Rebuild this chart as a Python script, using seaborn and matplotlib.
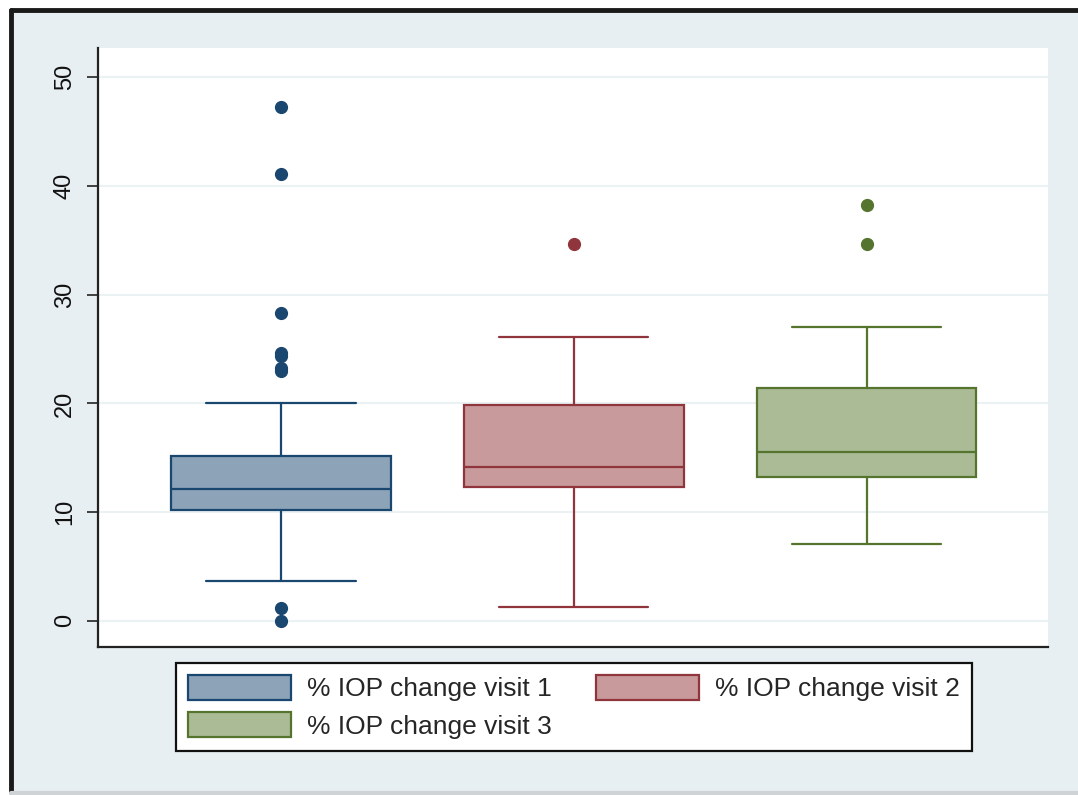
import matplotlib
matplotlib.use('Agg')
import matplotlib.pyplot as plt
from matplotlib.patches import Patch, Rectangle
from matplotlib.lines import Line2D
import seaborn as sns

# ========================================
# Data
# ========================================
labels = ['% IOP change visit 1', '% IOP change visit 2', '% IOP change visit 3']
q1 = [10.2, 12.3, 13.2]
median = [12.1, 14.15, 15.5]
q3 = [15.2, 19.85, 21.4]
whisker_low = [3.7, 1.3, 7.1]
whisker_high = [20.0, 26.1, 27.0]
outliers = [
    [47.3, 41.1, 28.3, 24.6, 24.4, 23.3, 23.0, 1.2, 0.0],
    [34.65],
    [38.3, 34.65],
]
y_ticks = [0, 10, 20, 30, 40, 50]

# Stata s2color-like palette
edge_colors = ['#1a476f', '#90353b', '#55752f']
fill_colors = ['#8da3b7', '#c89a9c', '#aabb96']
BG = '#e8eff2'
GRID = '#eaf2f3'

sns.set_style('white')
plt.rcParams['font.family'] = ['Liberation Sans', 'DejaVu Sans']

fig = plt.figure(figsize=(10.78, 7.95), dpi=100)
fig.patch.set_facecolor('white')

# outer window-like frame: dark left/top edges, soft grey bottom
fig.patches.append(Rectangle((0.0102, 0.0), 1.0, 0.987, transform=fig.transFigure,
                             facecolor=BG, edgecolor='none', zorder=-10))
fig.lines.append(Line2D([0.0102, 0.0102], [0.004, 0.987], transform=fig.transFigure,
                        color='#1a1a1a', linewidth=3.5, zorder=-5))
fig.lines.append(Line2D([0.0102, 1.0], [0.987, 0.987], transform=fig.transFigure,
                        color='#1a1a1a', linewidth=3.5, zorder=-5))
fig.lines.append(Line2D([0.0102, 1.0], [0.003, 0.003], transform=fig.transFigure,
                        color='#cfd3d5', linewidth=3, zorder=-5))

ax = fig.add_axes([0.0909, 0.1862, 0.8813, 0.7534])
ax.set_facecolor('white')

stats = []
for i in range(len(labels)):
    stats.append({
        'label': labels[i],
        'q1': q1[i], 'med': median[i], 'q3': q3[i],
        'whislo': whisker_low[i], 'whishi': whisker_high[i],
        'fliers': outliers[i],
    })

bp = ax.bxp(stats, positions=range(len(labels)), widths=0.75, patch_artist=True,
            showfliers=True, manage_ticks=False)

for i in range(len(labels)):
    c = edge_colors[i]
    bp['boxes'][i].set(facecolor=fill_colors[i], edgecolor=c, linewidth=1.6)
    bp['medians'][i].set(color=c, linewidth=1.6)
    for ln in bp['whiskers'][2 * i:2 * i + 2]:
        ln.set(color=c, linewidth=1.6)
    for ln in bp['caps'][2 * i:2 * i + 2]:
        ln.set(color=c, linewidth=1.6)
    bp['fliers'][i].set(marker='o', markerfacecolor=c, markeredgecolor=c, markersize=8.5)
for ln in bp['caps']:
    x0, x1 = ln.get_xdata()
    mid = (x0 + x1) / 2
    ln.set_xdata([mid - 0.255, mid + 0.255])

ax.set_xlim(-0.625, 2.62)
ax.set_ylim(-2.4, 52.7)
ax.set_yticks(y_ticks)
ax.set_yticklabels([str(t) for t in y_ticks], rotation=90, va='center', fontsize=17, color='#111111')
ax.set_xticks([])
ax.yaxis.grid(True, color=GRID, linewidth=1.5)
ax.set_axisbelow(True)
ax.tick_params(axis='y', direction='out', length=8, width=1.2, color='#222222', pad=8, left=True)

sns.despine(ax=ax, top=True, right=True)
for side in ['left', 'bottom']:
    ax.spines[side].set_color('#222222')
    ax.spines[side].set_linewidth(1.6)

# row-wise legend order (matplotlib fills columns first)
order = [0, 2, 1]
handles = [Patch(facecolor=fill_colors[i], edgecolor=edge_colors[i], linewidth=1.6, label=labels[i])
           for i in order]
leg = fig.legend(handles=handles, loc='center', bbox_to_anchor=(0.5325, 0.111), ncol=2,
                 fontsize=19, frameon=True, fancybox=False, handlelength=3.9, handleheight=1.1,
                 handletextpad=0.6, columnspacing=1.7, labelspacing=0.4, borderpad=0.45)
leg.get_frame().set_edgecolor('#111111')
leg.get_frame().set_facecolor('white')
leg.get_frame().set_alpha(1)
leg.get_frame().set_linewidth(1.6)

fig.savefig('out.png', dpi=100)
